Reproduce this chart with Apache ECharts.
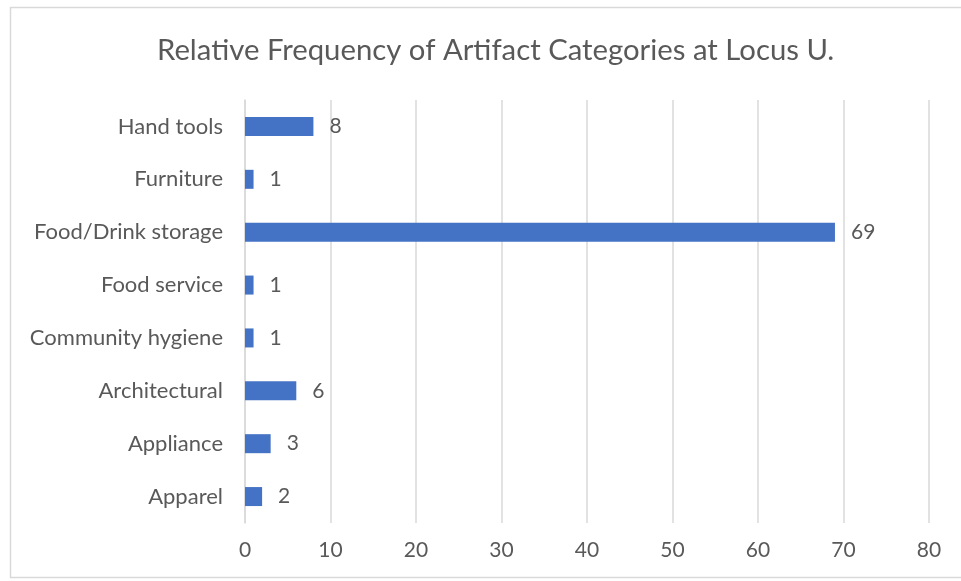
<!DOCTYPE html>
<html>
<head>
<meta charset="utf-8">
<script src="https://cdn.jsdelivr.net/npm/echarts@6/dist/echarts.min.js"></script>
<style>
  html, body { margin: 0; padding: 0; background: #fff; }
  #chart { width: 961px; height: 581px; }
</style>
</head>
<body>
<div id="chart"></div>
<script>
// Artifact categories, listed bottom to top as drawn on the axis
const categories = ['Apparel', 'Appliance', 'Architectural', 'Community hygiene',
  'Food service', 'Food/Drink storage', 'Furniture', 'Hand tools'];
const counts = [2, 3, 6, 1, 1, 69, 1, 8];
const titleText = 'Relative Frequency of Artifact Categories at Locus U.';

const FONT = 'Lato, "Open Sans", sans-serif';
const TEXT = '#595959';

const chart = echarts.init(document.getElementById('chart'));
chart.setOption({
  backgroundColor: '#fff',
  animation: false,
  title: {
    text: titleText,
    left: 152,
    top: 31,
    textStyle: { fontFamily: FONT, fontSize: 29.3, fontWeight: 'normal', color: TEXT }
  },
  graphic: [{
    type: 'rect',
    shape: { x: 10.5, y: 7.5, width: 960, height: 570 },
    style: { fill: 'none', stroke: '#d9d9d9', lineWidth: 1.5 },
    silent: true
  }],
  grid: { left: 245, right: 32, top: 100, bottom: 58, containLabel: false },
  xAxis: {
    type: 'value',
    min: 0, max: 80, interval: 10,
    axisLine: { show: false },
    axisTick: { show: false },
    splitLine: { show: true, lineStyle: { color: '#d9d9d9', width: 1.5 } },
    axisLabel: { fontFamily: FONT, fontSize: 21, color: TEXT, margin: 17 }
  },
  yAxis: {
    type: 'category',
    data: categories,
    axisLine: { show: true, lineStyle: { color: '#d9d9d9', width: 1.5 } },
    axisTick: { show: false },
    axisLabel: { fontFamily: FONT, fontSize: 22, color: TEXT, margin: 22 }
  },
  series: [{
    type: 'bar',
    data: counts,
    barWidth: 19,
    itemStyle: { color: '#4472C4' },
    label: {
      show: true,
      position: 'right',
      distance: 16,
      fontFamily: FONT,
      fontSize: 21,
      color: TEXT
    }
  }]
});
</script>
</body>
</html>
